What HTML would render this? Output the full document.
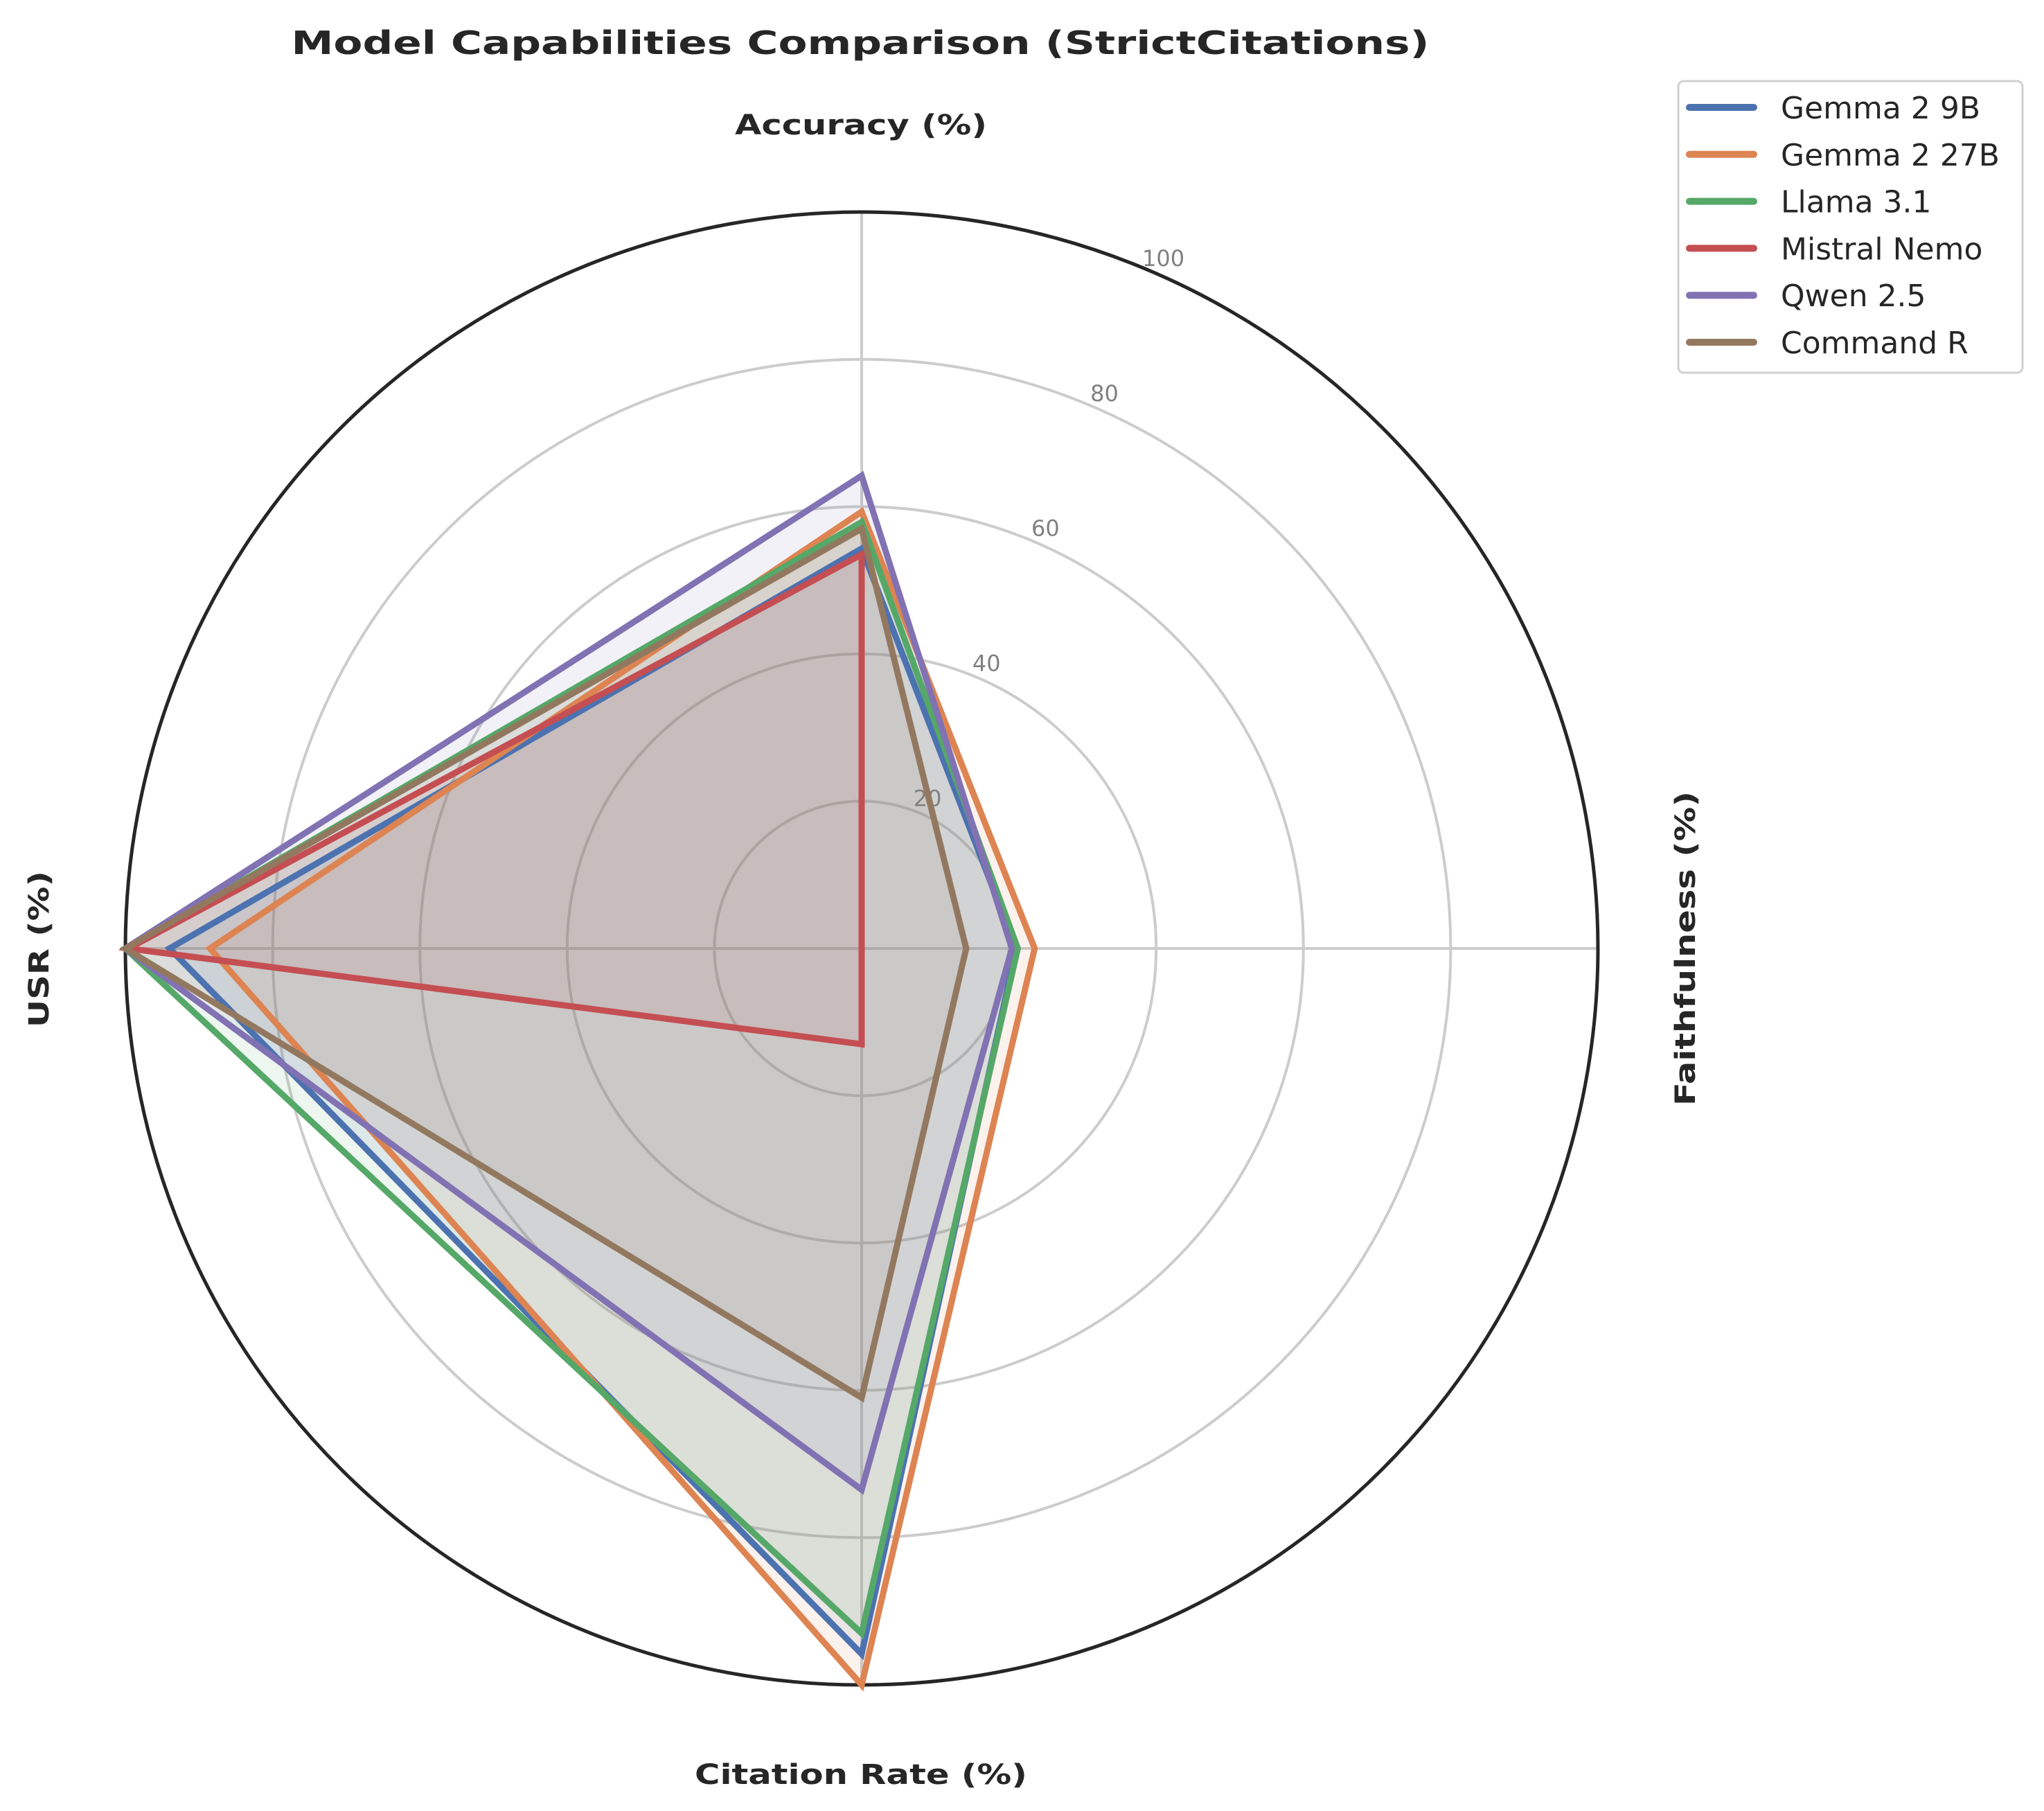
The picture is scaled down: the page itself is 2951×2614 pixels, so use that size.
<!DOCTYPE html>
<html><head><meta charset="utf-8"><style>
html,body{margin:0;padding:0;background:#fff}
svg{display:block}
text{font-family:"DejaVu Sans","Liberation Sans",sans-serif}
</style></head><body>
<svg id="chart" width="2951" height="2614" viewBox="0 0 2951 2614">
<text x="1242" y="78" text-anchor="middle" font-size="46" font-weight="bold" fill="#262626" textLength="1643" lengthAdjust="spacingAndGlyphs">Model Capabilities Comparison (StrictCitations)</text>
<g id="grid"></g>
<g id="series"></g>
<g id="labels"></g>
<g id="legend"></g>
</svg>
<script>
const axes = ["Accuracy (%)","Faithfulness (%)","Citation Rate (%)","USR (%)"];
const models = ["Gemma 2 9B","Gemma 2 27B","Llama 3.1","Mistral Nemo","Qwen 2.5","Command R"];
const gemma9 = [54.3,21,95.8,94];
const gemma27 = [59.3,23.5,100,88.5];
const llama = [57.9,21.2,93,100];
const mistral = [53.5,0,13,99.6];
const qwen = [64.2,20.4,73.5,100];
const commandR = [57,14.2,61,100];
const ticks = [20,40,60,80,100];
const seriesVals = [gemma9,gemma27,llama,mistral,qwen,commandR];
const colors = ["#4C72B0","#DD8452","#55A868","#C44E52","#8172B3","#937860"];
const NS="http://www.w3.org/2000/svg";
const cx=1244, cy=1369, R=1063;
function rad(v){return v/100*R;}
function ang(i){return i*Math.PI/2;}
function pt(i,v){const a=ang(i);return [cx+rad(v)*Math.sin(a), cy-rad(v)*Math.cos(a)];}
function mk(tag,attrs,parent){const e=document.createElementNS(NS,tag);for(const k in attrs)e.setAttribute(k,attrs[k]);parent.appendChild(e);return e;}
const grid=document.getElementById('grid');
ticks.forEach((t,k)=>{
  if(t<100){
    const c=mk('circle',{cx:cx,cy:cy,r:rad(t),fill:'none',stroke:'#cccccc','stroke-width':4},grid);
    
    
  }
});
axes.forEach((a,i)=>{
  const p=pt(i,100);
  const l=mk('line',{x1:cx,y1:cy,x2:p[0],y2:p[1],stroke:'#cccccc','stroke-width':4},grid);
  
  
});
const outer=mk('circle',{cx:cx,cy:cy,r:R,fill:'none',stroke:'#262626','stroke-width':5},grid);


ticks.forEach(t=>{
  const a=23.6*Math.PI/180, r=rad(t)+25;
  const tx=mk('text',{x:cx+r*Math.sin(a),y:cy-r*Math.cos(a)+12,'text-anchor':'middle','font-size':32,fill:'#808080'},grid);
  tx.textContent=t;
  
  
});
const sg=document.getElementById('series');
seriesVals.forEach((vals,s)=>{
  const pts=vals.map((v,i)=>pt(i,v).map(n=>n.toFixed(1)).join(',')).join(' ');
  const f=mk('polygon',{points:pts,fill:colors[s],'fill-opacity':0.1,stroke:'none'},sg);
  
  
});
seriesVals.forEach((vals,s)=>{
  const pts=vals.map((v,i)=>pt(i,v).map(n=>n.toFixed(1)).join(',')).join(' ');
  const l=mk('polygon',{points:pts,fill:'none',stroke:colors[s],'stroke-width':9,'stroke-linejoin':'miter'},sg);
  
  
});
const lg=document.getElementById('labels');
const labelPos=[[1243,194,0,364],[2447,1369,-90,454],[1243,2575,0,480],[70,1370,-90,226]];
axes.forEach((a,i)=>{
  const p=labelPos[i];
  const t=mk('text',{x:p[0],y:p[1],'text-anchor':'middle','font-size':40,'font-weight':'bold',fill:'#262626',textLength:p[3],lengthAdjust:'spacingAndGlyphs',transform:'rotate('+p[2]+' '+p[0]+' '+p[1]+')'},lg);
  t.textContent=a;
  
  
});
const leg=document.getElementById('legend');
const box=mk('rect',{x:2423,y:117,width:497,height:421,rx:8,fill:'#fff',stroke:'#d0d0d0','stroke-width':3},leg);


models.forEach((m,s)=>{
  const y=155+s*67.8;
  const g=mk('g',{},leg);
  
  
  mk('line',{x1:2439,y1:y,x2:2532,y2:y,stroke:colors[s],'stroke-width':10,'stroke-linecap':'round'},g);
  const t=mk('text',{x:2571,y:y+16,'font-size':44,fill:'#262626'},g);
  t.textContent=m;
});
</script>
</body></html>
